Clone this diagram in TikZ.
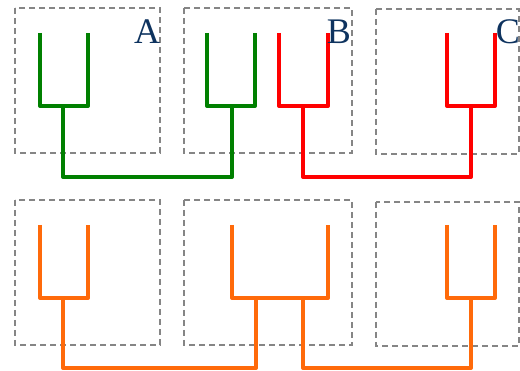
\documentclass[tikz,border=0pt]{standalone}
\usepackage{fontspec}
\setmainfont{Liberation Serif}
\usepackage{tikz}
\usetikzlibrary{positioning}
\definecolor{panelgray}{HTML}{858585}
\definecolor{labelblue}{HTML}{0E335F}
\definecolor{treegreen}{HTML}{008000}
\definecolor{treered}{HTML}{FF0000}
\definecolor{treeorange}{HTML}{FF6A0A}

\begin{document}
\begin{tikzpicture}[
  x=1pt, y=-1pt,
  panel/.style={draw=panelgray, line width=1.8pt, dash pattern=on 6pt off 4pt},
  branch/.style={line width=4pt, line join=round},
  tag/.style={anchor=base, inner sep=0pt, text=labelblue, font=\fontsize{36}{36}\selectfont}
]
  \useasboundingbox (0,0) rectangle (520,371);

  % upper row of panels
  \draw[panel] (15,8) rectangle (160,153);
  \draw[panel] (184,8) rectangle (352,153);
  \draw[panel] (376,9) rectangle (519,154);

  % lower row of panels
  \draw[panel] (15,200) rectangle (160,345);
  \draw[panel] (184,200) rectangle (352,345);
  \draw[panel] (376,202) rectangle (519,346);

  % upper trees
  \draw[branch, treegreen] (40,33) |- (88,106) -- (88,33);
  \draw[branch, treegreen] (207,33) |- (255,106) -- (255,33);
  \draw[branch, treegreen] (63,106) |- (232,177) -- (232,106);

  \draw[branch, treered] (279,33) |- (328,106) -- (328,33);
  \draw[branch, treered] (447,33) |- (495,106) -- (495,33);
  \draw[branch, treered] (303,106) |- (471,177) -- (471,106);

  % lower tree
  \draw[branch, treeorange] (40,225) |- (88,298) -- (88,225);
  \draw[branch, treeorange] (232,225) |- (328,298) -- (328,225);
  \draw[branch, treeorange] (447,225) |- (495,298) -- (495,225);
  \draw[branch, treeorange] (63,298) |- (256,368) -- (256,298);
  \draw[branch, treeorange] (303,298) |- (471,368) -- (471,298);

  % labels
  \node[tag] (labA) at (147,44) {A};
  \node[tag] (labB) at (339,44) {B};
  \node[tag] (labC) at (508,44) {C};
\end{tikzpicture}
\end{document}
